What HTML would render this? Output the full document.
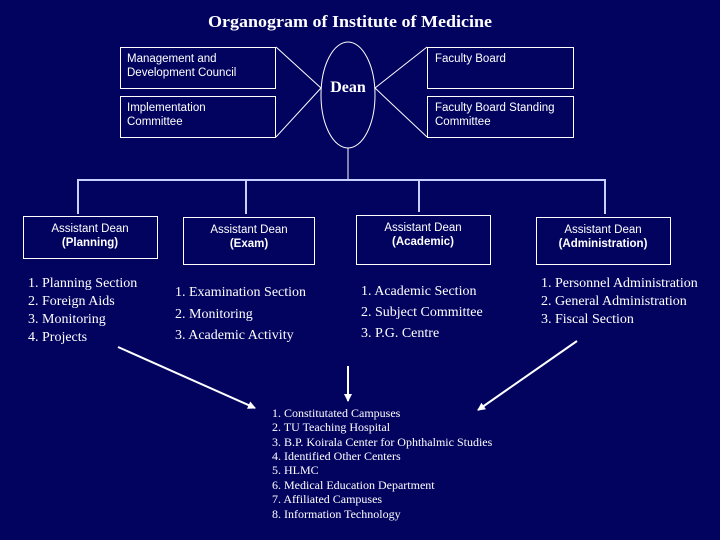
<!DOCTYPE html>
<html><head><meta charset="utf-8"><style>
html,body{margin:0;padding:0;background:#02035f;}
svg{display:block}
.s{font-family:"Liberation Serif",serif;fill:#fff}
.a{font-family:"Liberation Sans",sans-serif;fill:#fff;font-size:11.5px}
</style></head><body>
<svg width="720" height="540" viewBox="0 0 720 540" xmlns="http://www.w3.org/2000/svg">
<rect width="720" height="540" fill="#02035f"/>
<defs><marker id="ar" markerWidth="8" markerHeight="8" refX="7" refY="4" orient="auto" markerUnits="userSpaceOnUse"><path d="M0,0 L8,4 L0,8 z" fill="#fff"/></marker></defs>
<text x="350" y="27" text-anchor="middle" class="s" font-size="17" font-weight="bold" textLength="284" lengthAdjust="spacingAndGlyphs">Organogram of Institute of Medicine</text>
<g fill="none" stroke="#fff" stroke-width="1">
<rect x="120.5" y="47.5" width="155" height="41"/>
<rect x="120.5" y="96.5" width="155" height="41"/>
<rect x="427.5" y="47.5" width="146" height="41"/>
<rect x="427.5" y="96.5" width="146" height="41"/>
<ellipse cx="348" cy="95" rx="27" ry="53"/>
<line x1="276" y1="47" x2="321" y2="88"/>
<line x1="276" y1="137" x2="321" y2="88"/>
<line x1="427" y1="47" x2="375" y2="88"/>
<line x1="427" y1="137" x2="375" y2="88"/>
<line x1="348" y1="148" x2="348" y2="180"/>
</g>
<g stroke="#c8d0ff" stroke-width="2" fill="none">
<line x1="77" y1="180" x2="606" y2="180"/>
<line x1="78" y1="180" x2="78" y2="214"/>
<line x1="246" y1="180" x2="246" y2="214"/>
<line x1="419" y1="180" x2="419" y2="212"/>
<line x1="605" y1="180" x2="605" y2="214"/>
</g>
<g fill="none" stroke="#fff" stroke-width="1">
<rect x="23.5" y="216.5" width="134" height="42"/>
<rect x="183.5" y="217.5" width="131" height="47"/>
<rect x="356.5" y="215.5" width="134" height="49"/>
<rect x="536.5" y="217.5" width="134" height="47"/>
</g>
<text x="348" y="92" text-anchor="middle" class="s" font-size="16" font-weight="bold">Dean</text>
<text class="a" x="127" y="62">Management and</text>
<text class="a" x="127" y="76">Development Council</text>
<text class="a" x="127" y="111">Implementation</text>
<text class="a" x="127" y="125">Committee</text>
<text class="a" x="435" y="62">Faculty Board</text>
<text class="a" x="435" y="111">Faculty Board Standing</text>
<text class="a" x="435" y="125">Committee</text>
<g text-anchor="middle">
<text class="a" x="90" y="232">Assistant Dean</text>
<text class="a" x="90" y="246" font-weight="bold">(Planning)</text>
<text class="a" x="249" y="233">Assistant Dean</text>
<text class="a" x="249" y="247" font-weight="bold">(Exam)</text>
<text class="a" x="423" y="231">Assistant Dean</text>
<text class="a" x="423" y="245" font-weight="bold">(Academic)</text>
<text class="a" x="603" y="233">Assistant Dean</text>
<text class="a" x="603" y="247" font-weight="bold">(Administration)</text>
</g>
<g class="s" font-size="14">
<text x="28" y="287">1. Planning Section</text>
<text x="28" y="305">2. Foreign Aids</text>
<text x="28" y="323">3. Monitoring</text>
<text x="28" y="341">4. Projects</text>
<text x="175" y="296">1. Examination Section</text>
<text x="175" y="318">2. Monitoring</text>
<text x="175" y="339">3. Academic Activity</text>
<text x="361" y="295">1. Academic Section</text>
<text x="361" y="316">2. Subject Committee</text>
<text x="361" y="337">3. P.G. Centre</text>
<text x="541" y="287">1. Personnel Administration</text>
<text x="541" y="305">2. General Administration</text>
<text x="541" y="323">3. Fiscal Section</text>
</g>
<g stroke="#fff" stroke-width="2" marker-end="url(#ar)">
<line x1="118" y1="347" x2="255" y2="408"/>
<line x1="348" y1="366" x2="348" y2="401"/>
<line x1="577" y1="341" x2="478" y2="410"/>
</g>
<g class="s" font-size="12">
<text x="272" y="417">1. Constitutated Campuses</text>
<text x="272" y="431">2. TU Teaching Hospital</text>
<text x="272" y="446">3. B.P. Koirala Center for Ophthalmic Studies</text>
<text x="272" y="460">4. Identified Other Centers</text>
<text x="272" y="474">5. HLMC</text>
<text x="272" y="489">6. Medical Education Department</text>
<text x="272" y="503">7. Affiliated Campuses</text>
<text x="272" y="518">8. Information Technology</text>
</g>
</svg>
</body></html>
